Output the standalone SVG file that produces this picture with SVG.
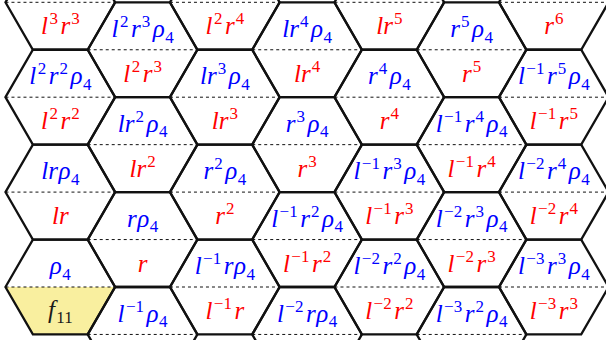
<svg xmlns="http://www.w3.org/2000/svg" xmlns:xlink="http://www.w3.org/1999/xlink" width="606" height="340" viewBox="0 0 606 340">
<style>
.t{font-family:"Liberation Serif","DejaVu Serif",serif;font-style:italic;font-size:25px;text-anchor:middle}
.r{fill:#ff0000}.b{fill:#0000ff}.k{fill:#1a1a1a}
.s{font-size:17px;font-style:normal}
.hx{fill:none;stroke:#111;stroke-width:2.3;stroke-linejoin:miter}
.cl{stroke:#111;stroke-width:1;stroke-dasharray:3 3}
</style>
<defs>
<polygon id="hx" class="hx" points="-54.83,0 -27.415,-47.45 27.415,-47.45 54.83,0 27.415,47.45 -27.415,47.45"/>
<line id="cl" class="cl" x1="-54.83" y1="0" x2="54.83" y2="0"/>
</defs>
<g id="f11">
<polygon points="5.47,287 115.13,287 87.72,334.45 32.88,334.45" fill="#f9ef9f"/>
<text class="t k" x="60.3" y="318" font-size="27">f<tspan class="s" dy="5" dx="1.5">11</tspan></text>
</g>
<g id="grid">
<use href="#cl" x="60.3" y="2.3"/><use href="#cl" x="60.3" y="97.2"/><use href="#cl" x="60.3" y="192.1"/><use href="#cl" x="60.3" y="287"/>
<use href="#cl" x="224.8" y="2.3"/><use href="#cl" x="224.8" y="97.2"/><use href="#cl" x="224.8" y="192.1"/><use href="#cl" x="224.8" y="287"/>
<use href="#cl" x="389.3" y="2.3"/><use href="#cl" x="389.3" y="97.2"/><use href="#cl" x="389.3" y="192.1"/><use href="#cl" x="389.3" y="287"/>
<use href="#cl" x="553.8" y="2.3"/><use href="#cl" x="553.8" y="97.2"/><use href="#cl" x="553.8" y="192.1"/><use href="#cl" x="553.8" y="287"/>
<use href="#cl" x="142.55" y="49.75"/><use href="#cl" x="142.55" y="144.65"/><use href="#cl" x="142.55" y="239.55"/><use href="#cl" x="142.55" y="334.45"/>
<use href="#cl" x="307.05" y="49.75"/><use href="#cl" x="307.05" y="144.65"/><use href="#cl" x="307.05" y="239.55"/><use href="#cl" x="307.05" y="334.45"/>
<use href="#cl" x="471.55" y="49.75"/><use href="#cl" x="471.55" y="144.65"/><use href="#cl" x="471.55" y="239.55"/><use href="#cl" x="471.55" y="334.45"/>
<use href="#hx" x="60.3" y="2.3"/><use href="#hx" x="60.3" y="97.2"/><use href="#hx" x="60.3" y="192.1"/><use href="#hx" x="60.3" y="287"/>
<use href="#hx" x="224.8" y="2.3"/><use href="#hx" x="224.8" y="97.2"/><use href="#hx" x="224.8" y="192.1"/><use href="#hx" x="224.8" y="287"/>
<use href="#hx" x="389.3" y="2.3"/><use href="#hx" x="389.3" y="97.2"/><use href="#hx" x="389.3" y="192.1"/><use href="#hx" x="389.3" y="287"/>
<use href="#hx" x="553.8" y="2.3"/><use href="#hx" x="553.8" y="97.2"/><use href="#hx" x="553.8" y="192.1"/><use href="#hx" x="553.8" y="287"/>
<use href="#hx" x="142.55" y="49.75"/><use href="#hx" x="142.55" y="144.65"/><use href="#hx" x="142.55" y="239.55"/><use href="#hx" x="142.55" y="334.45"/>
<use href="#hx" x="307.05" y="49.75"/><use href="#hx" x="307.05" y="144.65"/><use href="#hx" x="307.05" y="239.55"/><use href="#hx" x="307.05" y="334.45"/>
<use href="#hx" x="471.55" y="49.75"/><use href="#hx" x="471.55" y="144.65"/><use href="#hx" x="471.55" y="239.55"/><use href="#hx" x="471.55" y="334.45"/>
</g>
<!-- band 0 -->
<g id="n0-1"><text class="t r" x="60.3" y="34.3">l<tspan class="s" dy="-10" dx="1.5">3</tspan><tspan dy="10" dx="2.5">r</tspan><tspan class="s" dy="-10" dx="1">3</tspan></text></g>
<g id="n0-2"><text class="t b" x="142.55" y="37">l<tspan class="s" dy="-10" dx="1.5">2</tspan><tspan dy="10" dx="2.5">r</tspan><tspan class="s" dy="-10" dx="1">3</tspan><tspan dy="10" dx="2.5">ρ</tspan><tspan class="s" dy="5.5" dx="0.5">4</tspan></text></g>
<g id="n0-3"><text class="t r" x="224.8" y="34.3">l<tspan class="s" dy="-10" dx="1.5">2</tspan><tspan dy="10" dx="2.5">r</tspan><tspan class="s" dy="-10" dx="1">4</tspan></text></g>
<g id="n0-4"><text class="t b" x="307.05" y="37">lr<tspan class="s" dy="-10" dx="1">4</tspan><tspan dy="10" dx="2.5">ρ</tspan><tspan class="s" dy="5.5" dx="0.5">4</tspan></text></g>
<g id="n0-5"><text class="t r" x="389.3" y="34.3">lr<tspan class="s" dy="-10" dx="1">5</tspan></text></g>
<g id="n0-6"><text class="t b" x="471.55" y="37">r<tspan class="s" dy="-10" dx="1">5</tspan><tspan dy="10" dx="2.5">ρ</tspan><tspan class="s" dy="5.5" dx="0.5">4</tspan></text></g>
<g id="n0-7"><text class="t r" x="553.8" y="34.3">r<tspan class="s" dy="-10" dx="1">6</tspan></text></g>
<!-- band 1 -->
<g id="n1-1"><text class="t b" x="60.3" y="84.45">l<tspan class="s" dy="-10" dx="1.5">2</tspan><tspan dy="10" dx="2.5">r</tspan><tspan class="s" dy="-10" dx="1">2</tspan><tspan dy="10" dx="2.5">ρ</tspan><tspan class="s" dy="5.5" dx="0.5">4</tspan></text></g>
<g id="n1-2"><text class="t r" x="142.55" y="81.75">l<tspan class="s" dy="-10" dx="1.5">2</tspan><tspan dy="10" dx="2.5">r</tspan><tspan class="s" dy="-10" dx="1">3</tspan></text></g>
<g id="n1-3"><text class="t b" x="224.8" y="84.45">lr<tspan class="s" dy="-10" dx="1">3</tspan><tspan dy="10" dx="2.5">ρ</tspan><tspan class="s" dy="5.5" dx="0.5">4</tspan></text></g>
<g id="n1-4"><text class="t r" x="307.05" y="81.75">lr<tspan class="s" dy="-10" dx="1">4</tspan></text></g>
<g id="n1-5"><text class="t b" x="389.3" y="84.45">r<tspan class="s" dy="-10" dx="1">4</tspan><tspan dy="10" dx="2.5">ρ</tspan><tspan class="s" dy="5.5" dx="0.5">4</tspan></text></g>
<g id="n1-6"><text class="t r" x="471.55" y="81.75">r<tspan class="s" dy="-10" dx="1">5</tspan></text></g>
<g id="n1-7"><text class="t b" x="553.8" y="84.45">l<tspan class="s" dy="-10" dx="1.5">−1</tspan><tspan dy="10" dx="2.5">r</tspan><tspan class="s" dy="-10" dx="1">5</tspan><tspan dy="10" dx="2.5">ρ</tspan><tspan class="s" dy="5.5" dx="0.5">4</tspan></text></g>
<!-- band 2 -->
<g id="n2-1"><text class="t r" x="60.3" y="129.2">l<tspan class="s" dy="-10" dx="1.5">2</tspan><tspan dy="10" dx="2.5">r</tspan><tspan class="s" dy="-10" dx="1">2</tspan></text></g>
<g id="n2-2"><text class="t b" x="142.55" y="131.9">lr<tspan class="s" dy="-10" dx="1">2</tspan><tspan dy="10" dx="2.5">ρ</tspan><tspan class="s" dy="5.5" dx="0.5">4</tspan></text></g>
<g id="n2-3"><text class="t r" x="224.8" y="129.2">lr<tspan class="s" dy="-10" dx="1">3</tspan></text></g>
<g id="n2-4"><text class="t b" x="307.05" y="131.9">r<tspan class="s" dy="-10" dx="1">3</tspan><tspan dy="10" dx="2.5">ρ</tspan><tspan class="s" dy="5.5" dx="0.5">4</tspan></text></g>
<g id="n2-5"><text class="t r" x="389.3" y="129.2">r<tspan class="s" dy="-10" dx="1">4</tspan></text></g>
<g id="n2-6"><text class="t b" x="471.55" y="131.9">l<tspan class="s" dy="-10" dx="1.5">−1</tspan><tspan dy="10" dx="2.5">r</tspan><tspan class="s" dy="-10" dx="1">4</tspan><tspan dy="10" dx="2.5">ρ</tspan><tspan class="s" dy="5.5" dx="0.5">4</tspan></text></g>
<g id="n2-7"><text class="t r" x="553.8" y="129.2">l<tspan class="s" dy="-10" dx="1.5">−1</tspan><tspan dy="10" dx="2.5">r</tspan><tspan class="s" dy="-10" dx="1">5</tspan></text></g>
<!-- band 3 -->
<g id="n3-1"><text class="t b" x="60.3" y="179.35">lr<tspan dx="0.5">ρ</tspan><tspan class="s" dy="5.5" dx="0.5">4</tspan></text></g>
<g id="n3-2"><text class="t r" x="142.55" y="176.65">lr<tspan class="s" dy="-10" dx="1">2</tspan></text></g>
<g id="n3-3"><text class="t b" x="224.8" y="179.35">r<tspan class="s" dy="-10" dx="1">2</tspan><tspan dy="10" dx="2.5">ρ</tspan><tspan class="s" dy="5.5" dx="0.5">4</tspan></text></g>
<g id="n3-4"><text class="t r" x="307.05" y="176.65">r<tspan class="s" dy="-10" dx="1">3</tspan></text></g>
<g id="n3-5"><text class="t b" x="389.3" y="179.35">l<tspan class="s" dy="-10" dx="1.5">−1</tspan><tspan dy="10" dx="2.5">r</tspan><tspan class="s" dy="-10" dx="1">3</tspan><tspan dy="10" dx="2.5">ρ</tspan><tspan class="s" dy="5.5" dx="0.5">4</tspan></text></g>
<g id="n3-6"><text class="t r" x="471.55" y="176.65">l<tspan class="s" dy="-10" dx="1.5">−1</tspan><tspan dy="10" dx="2.5">r</tspan><tspan class="s" dy="-10" dx="1">4</tspan></text></g>
<g id="n3-7"><text class="t b" x="553.8" y="179.35">l<tspan class="s" dy="-10" dx="1.5">−2</tspan><tspan dy="10" dx="2.5">r</tspan><tspan class="s" dy="-10" dx="1">4</tspan><tspan dy="10" dx="2.5">ρ</tspan><tspan class="s" dy="5.5" dx="0.5">4</tspan></text></g>
<!-- band 4 -->
<g id="n4-1"><text class="t r" x="60.3" y="224.1">lr</text></g>
<g id="n4-2"><text class="t b" x="142.55" y="226.8">r<tspan dx="0.5">ρ</tspan><tspan class="s" dy="5.5" dx="0.5">4</tspan></text></g>
<g id="n4-3"><text class="t r" x="224.8" y="224.1">r<tspan class="s" dy="-10" dx="1">2</tspan></text></g>
<g id="n4-4"><text class="t b" x="307.05" y="226.8">l<tspan class="s" dy="-10" dx="1.5">−1</tspan><tspan dy="10" dx="2.5">r</tspan><tspan class="s" dy="-10" dx="1">2</tspan><tspan dy="10" dx="2.5">ρ</tspan><tspan class="s" dy="5.5" dx="0.5">4</tspan></text></g>
<g id="n4-5"><text class="t r" x="389.3" y="224.1">l<tspan class="s" dy="-10" dx="1.5">−1</tspan><tspan dy="10" dx="2.5">r</tspan><tspan class="s" dy="-10" dx="1">3</tspan></text></g>
<g id="n4-6"><text class="t b" x="471.55" y="226.8">l<tspan class="s" dy="-10" dx="1.5">−2</tspan><tspan dy="10" dx="2.5">r</tspan><tspan class="s" dy="-10" dx="1">3</tspan><tspan dy="10" dx="2.5">ρ</tspan><tspan class="s" dy="5.5" dx="0.5">4</tspan></text></g>
<g id="n4-7"><text class="t r" x="553.8" y="224.1">l<tspan class="s" dy="-10" dx="1.5">−2</tspan><tspan dy="10" dx="2.5">r</tspan><tspan class="s" dy="-10" dx="1">4</tspan></text></g>
<!-- band 5 -->
<g id="n5-1"><text class="t b" x="60.3" y="274.25">ρ<tspan class="s" dy="5.5" dx="0.5">4</tspan></text></g>
<g id="n5-2"><text class="t r" x="142.55" y="271.55">r</text></g>
<g id="n5-3"><text class="t b" x="224.8" y="274.25">l<tspan class="s" dy="-10" dx="1.5">−1</tspan><tspan dy="10" dx="2.5">r</tspan><tspan dx="0.5">ρ</tspan><tspan class="s" dy="5.5" dx="0.5">4</tspan></text></g>
<g id="n5-4"><text class="t r" x="307.05" y="271.55">l<tspan class="s" dy="-10" dx="1.5">−1</tspan><tspan dy="10" dx="2.5">r</tspan><tspan class="s" dy="-10" dx="1">2</tspan></text></g>
<g id="n5-5"><text class="t b" x="389.3" y="274.25">l<tspan class="s" dy="-10" dx="1.5">−2</tspan><tspan dy="10" dx="2.5">r</tspan><tspan class="s" dy="-10" dx="1">2</tspan><tspan dy="10" dx="2.5">ρ</tspan><tspan class="s" dy="5.5" dx="0.5">4</tspan></text></g>
<g id="n5-6"><text class="t r" x="471.55" y="271.55">l<tspan class="s" dy="-10" dx="1.5">−2</tspan><tspan dy="10" dx="2.5">r</tspan><tspan class="s" dy="-10" dx="1">3</tspan></text></g>
<g id="n5-7"><text class="t b" x="553.8" y="274.25">l<tspan class="s" dy="-10" dx="1.5">−3</tspan><tspan dy="10" dx="2.5">r</tspan><tspan class="s" dy="-10" dx="1">3</tspan><tspan dy="10" dx="2.5">ρ</tspan><tspan class="s" dy="5.5" dx="0.5">4</tspan></text></g>
<!-- band 6 -->
<g id="n6-2"><text class="t b" x="142.55" y="321.7">l<tspan class="s" dy="-10" dx="1.5">−1</tspan><tspan dy="10" dx="2.5">ρ</tspan><tspan class="s" dy="5.5" dx="0.5">4</tspan></text></g>
<g id="n6-3"><text class="t r" x="224.8" y="319">l<tspan class="s" dy="-10" dx="1.5">−1</tspan><tspan dy="10" dx="2.5">r</tspan></text></g>
<g id="n6-4"><text class="t b" x="307.05" y="321.7">l<tspan class="s" dy="-10" dx="1.5">−2</tspan><tspan dy="10" dx="2.5">r</tspan><tspan dx="0.5">ρ</tspan><tspan class="s" dy="5.5" dx="0.5">4</tspan></text></g>
<g id="n6-5"><text class="t r" x="389.3" y="319">l<tspan class="s" dy="-10" dx="1.5">−2</tspan><tspan dy="10" dx="2.5">r</tspan><tspan class="s" dy="-10" dx="1">2</tspan></text></g>
<g id="n6-6"><text class="t b" x="471.55" y="321.7">l<tspan class="s" dy="-10" dx="1.5">−3</tspan><tspan dy="10" dx="2.5">r</tspan><tspan class="s" dy="-10" dx="1">2</tspan><tspan dy="10" dx="2.5">ρ</tspan><tspan class="s" dy="5.5" dx="0.5">4</tspan></text></g>
<g id="n6-7"><text class="t r" x="553.8" y="319">l<tspan class="s" dy="-10" dx="1.5">−3</tspan><tspan dy="10" dx="2.5">r</tspan><tspan class="s" dy="-10" dx="1">3</tspan></text></g>
</svg>
